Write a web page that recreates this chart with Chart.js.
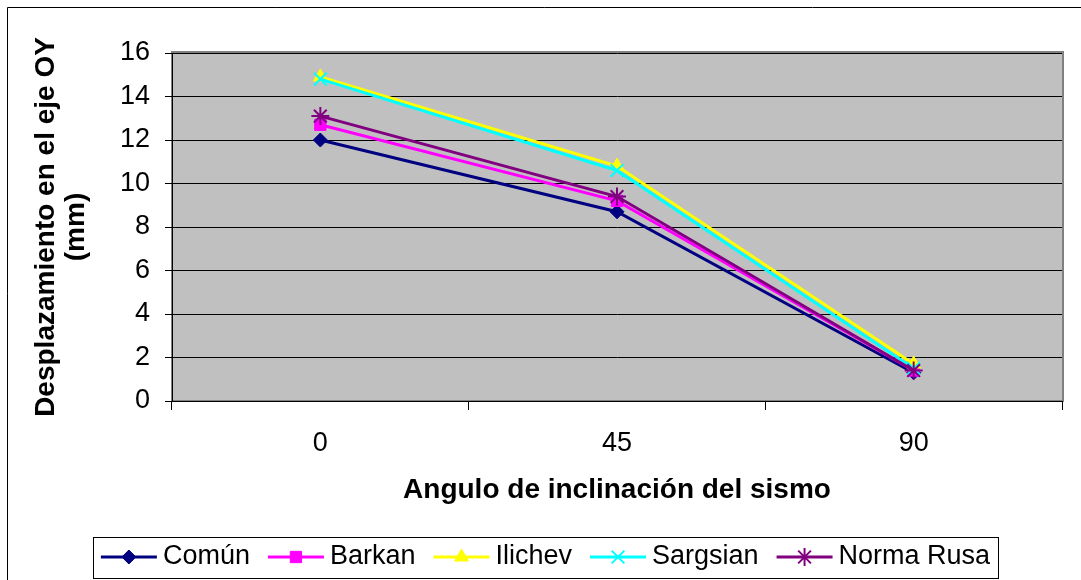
<!DOCTYPE html>
<html>
<head>
<meta charset="utf-8">
<script src="https://cdn.jsdelivr.net/npm/chart.js@4/dist/chart.umd.min.js"></script>
<style>
  html, body { margin: 0; padding: 0; background: #fff; }
  #wrap { width: 1081px; height: 580px; }
</style>
</head>
<body>
<div id="wrap"><canvas id="chart"></canvas></div>
<script>
// angle of the seismic load (degrees) and OY displacement (mm) per method
const angles = ['0', '45', '90'];
const seriesNames = ['Común', 'Barkan', 'Ilichev', 'Sargsian', 'Norma Rusa'];
const comun = [12.0, 8.7, 1.3];
const barkan = [12.7, 9.2, 1.4];
const ilichev = [14.9, 10.8, 1.7];
const sargsian = [14.8, 10.6, 1.5];
const normaRusa = [13.1, 9.4, 1.4];
const yMin = 0, yMax = 16, yStep = 2;

const seriesData = [comun, barkan, ilichev, sargsian, normaRusa];
const colors = ['#000080', '#ff00ff', '#ffff00', '#00ffff', '#800080'];
const markers = ['rectRot', 'rect', 'triangle', 'crossRot', 'star'];
const radii = [7, 8, 8, 9, 9];
const markerBorder = [1, 1, 1, 2, 2];

const FONT = 'Arial, "Liberation Sans", sans-serif';
Chart.defaults.font.family = FONT;
Chart.defaults.color = '#000';

// grey plot area, outer frame and the boxed legend at the bottom
const decor = {
  id: 'decor',
  beforeDraw(chart) {
    const ctx = chart.ctx, a = chart.chartArea;
    ctx.save();
    ctx.fillStyle = '#fff';
    ctx.fillRect(0, 0, chart.width, chart.height);
    ctx.strokeStyle = '#000';
    ctx.lineWidth = 1;
    ctx.beginPath();
    ctx.moveTo(7.5, chart.height);
    ctx.lineTo(7.5, 7.5);
    ctx.lineTo(chart.width, 7.5);
    ctx.stroke();
    ctx.fillStyle = '#c0c0c0';
    ctx.fillRect(a.left, a.top, a.right - a.left, a.bottom - a.top);
    ctx.strokeStyle = '#808080';
    ctx.lineWidth = 2;
    ctx.strokeRect(a.left, a.top - 1, a.right - a.left + 1, a.bottom - a.top + 1);
    ctx.restore();
  },
  afterDraw(chart) {
    const ctx = chart.ctx;
    const lineLen = 56, gap = 6, spacing = 18;
    const boxL = 93, boxR = 998, boxT = 537, boxB = 578, cy = 557;
    ctx.save();
    ctx.font = '27px ' + FONT;
    const items = chart.data.datasets.map(ds => ({ ds: ds, w: ctx.measureText(ds.label).width }));
    const total = items.reduce((s, it) => s + lineLen + gap + it.w, 0) + spacing * (items.length - 1);
    ctx.strokeStyle = '#000';
    ctx.lineWidth = 1;
    ctx.strokeRect(boxL + 0.5, boxT + 0.5, boxR - boxL, boxB - boxT);
    let x = (boxL + boxR) / 2 - total / 2;
    items.forEach(it => {
      const ds = it.ds;
      ctx.strokeStyle = ds.borderColor;
      ctx.lineWidth = 3;
      ctx.beginPath();
      ctx.moveTo(x, cy);
      ctx.lineTo(x + lineLen, cy);
      ctx.stroke();
      ctx.fillStyle = ds.borderColor;
      ctx.lineWidth = ds.pointBorderWidth;
      Chart.helpers.drawPoint(ctx, {
        pointStyle: ds.pointStyle, radius: ds.pointRadius,
        rotation: 0, borderWidth: ds.pointBorderWidth
      }, x + lineLen / 2, cy);
      ctx.fillStyle = '#000';
      ctx.textBaseline = 'middle';
      ctx.textAlign = 'left';
      ctx.fillText(ds.label, x + lineLen + gap, cy);
      x += lineLen + gap + it.w + spacing;
    });
    ctx.restore();
  }
};

new Chart(document.getElementById('chart'), {
  type: 'line',
  data: {
    labels: angles,
    datasets: seriesNames.map((name, i) => ({
      label: name,
      data: seriesData[i],
      borderColor: colors[i],
      backgroundColor: colors[i],
      borderWidth: 3,
      pointStyle: markers[i],
      pointRadius: radii[i],
      pointBorderWidth: markerBorder[i],
      pointBackgroundColor: colors[i],
      pointBorderColor: colors[i],
      tension: 0,
      order: seriesNames.length - i
    }))
  },
  options: {
    responsive: true,
    maintainAspectRatio: false,
    animation: false,
    layout: { padding: { top: 53, right: 19, bottom: 59, left: 0 } },
    plugins: {
      legend: { display: false },
      tooltip: { enabled: false }
    },
    scales: {
      x: {
        offset: true,
        grid: { offset: true, drawOnChartArea: false, color: '#000', tickLength: 9 },
        border: { color: '#000', width: 1 },
        ticks: { color: '#000', font: { size: 27 }, padding: 17 },
        title: {
          display: true,
          text: 'Angulo de inclinación del sismo',
          color: '#000',
          font: { size: 28, weight: 'bold' },
          padding: { top: 0, bottom: 14 }
        },
        afterFit(scale) { scale.height = 120; }
      },
      y: {
        min: yMin,
        max: yMax,
        ticks: { stepSize: yStep, color: '#000', font: { size: 27 }, padding: 15 },
        grid: { color: '#000', tickLength: 7 },
        border: { color: '#000', width: 1 },
        title: {
          display: true,
          text: ['Desplazamiento en el eje OY', '(mm)'],
          color: '#000',
          font: { size: 28, weight: 'bold', lineHeight: 1.05 },
          padding: { top: 32, bottom: 0 }
        },
        afterFit(scale) { scale.width = 172; }
      }
    }
  },
  plugins: [decor]
});
</script>
</body>
</html>
